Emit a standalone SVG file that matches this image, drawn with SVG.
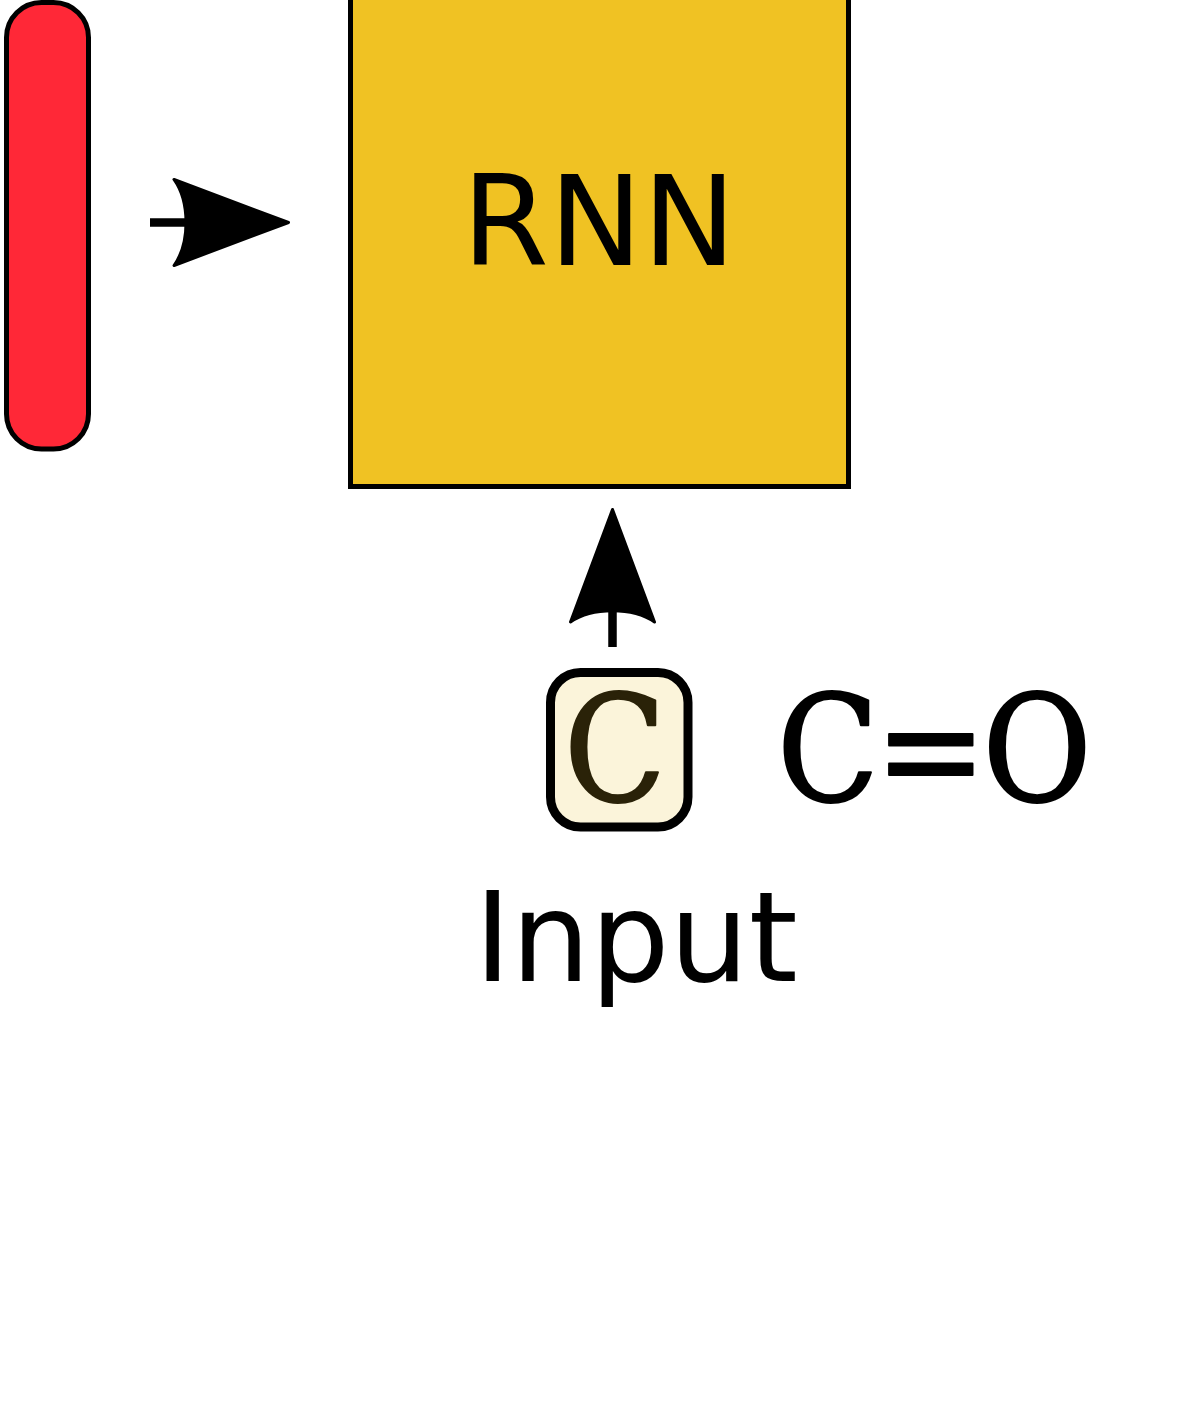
<svg xmlns="http://www.w3.org/2000/svg" width="1204" height="1407" viewBox="0 0 1204 1407">
  <style>
    .sans { font-family: "DejaVu Sans", "Liberation Sans", sans-serif; }
    .serif { font-family: "DejaVu Serif Condensed", "DejaVu Serif", "Liberation Serif", serif; font-stretch: condensed; stroke-width: 2; stroke-linejoin: round; }
    .line { stroke: #000; stroke-width: 8.5; fill: none; }
    .head { fill: #000; stroke: #000; stroke-width: 3; stroke-linejoin: round; }
  </style>
  <rect width="1204" height="1407" fill="#ffffff"/>
  <g id="hidden-state">
    <rect x="6.5" y="2.5" width="82" height="446.5" rx="35" ry="35" fill="#ff2837" stroke="#000" stroke-width="5"/>
  </g>
  <g id="rnn">
    <rect x="350.5" y="-10" width="498" height="496.5" fill="#f0c223" stroke="#000" stroke-width="5"/>
    <text x="599" y="265" class="sans" font-size="125" text-anchor="middle" fill="#000">RNN</text>
  </g>
  <g id="input-atom">
    <rect x="550.5" y="672.5" width="137.5" height="154.5" rx="30" ry="30" fill="#fbf4da" stroke="#000" stroke-width="9"/>
    <text x="615" y="801" class="serif" font-size="148" text-anchor="middle" fill="#2a2208" stroke="#2a2208">C</text>
  </g>
  <g id="molecule">
    <text x="777" y="801" class="serif" font-size="148" letter-spacing="-4" fill="#000" stroke="#000">C=O</text>
  </g>
  <g id="input-label">
    <text x="636" y="981" class="sans" font-size="125" text-anchor="middle" fill="#000">Input</text>
  </g>
  <g id="connectors">
    <line class="line" x1="150" y1="222.5" x2="185" y2="222.5"/>
    <path class="head" d="M174,179.5 L288.5,222.5 L174,265.5 C190,243 190,202 174,179.5 Z"/>
    <line class="line" x1="612.5" y1="647" x2="612.5" y2="610"/>
    <path class="head" d="M570.5,622 L612.5,509.5 L654.5,622 C633,607 592,607 570.5,622 Z"/>
  </g>
</svg>
